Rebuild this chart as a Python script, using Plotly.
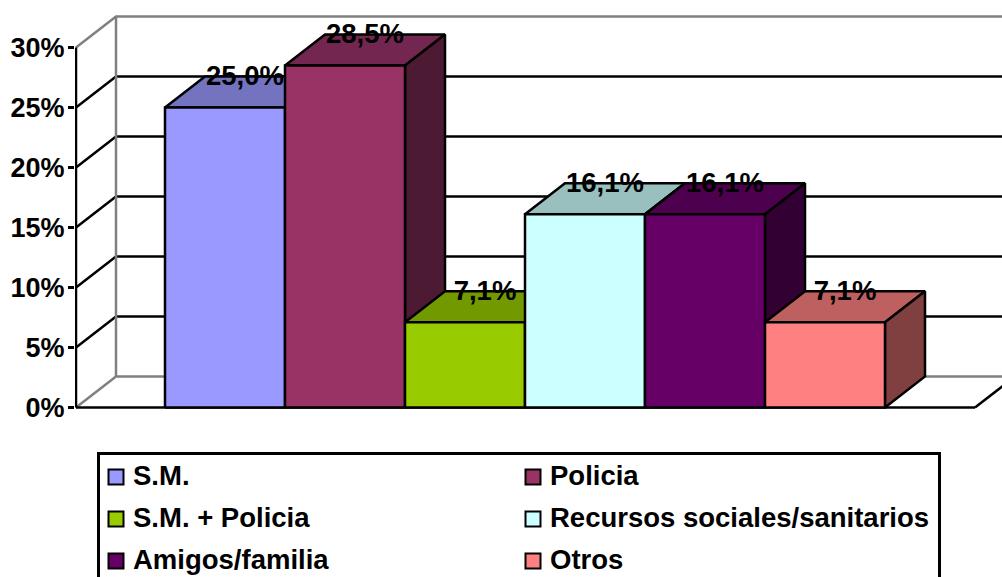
import plotly.graph_objects as go

categories = ["S.M.", "Policia", "S.M. + Policia", "Recursos sociales/sanitarios", "Amigos/familia", "Otros"]
values = [25.0, 28.5, 7.1, 16.1, 16.1, 7.1]
value_labels = ["25,0%", "28,5%", "7,1%", "16,1%", "16,1%", "7,1%"]
front_colors = ["#9999FF", "#993366", "#99CC00", "#CCFFFF", "#660066", "#FF8080"]
top_colors = ["#7373BF", "#732650", "#739900", "#99BFBF", "#4D004D", "#BF6060"]
side_colors = ["#4D4D80", "#4D1A33", "#4D6600", "#668080", "#330033", "#804040"]
tick_values = [0, 5, 10, 15, 20, 25, 30]
tick_labels = ["0%", "5%", "10%", "15%", "20%", "25%", "30%"]

W, H = 1002, 577
PX_X, PX_Y = 120, 12          # pixels per category / per percent
ORIGIN_X, ORIGIN_Y = 225, 407.5 # pixel of first category centre / of 0 %
DX, DY = 40 / PX_X, 31 / PX_Y # depth of the oblique projection
FLOOR_L, FLOOR_R = (76 - ORIGIN_X) / PX_X, (975 - ORIGIN_X) / PX_X
LINE_W = 2.5
BLACK, GRAY = "#000000", "#808080"
FONT = dict(family="Liberation Sans, Arial, sans-serif", color="black", weight=700)

fig = go.Figure()


def line(xs, ys, color, width=LINE_W):
    fig.add_trace(go.Scatter(x=xs, y=ys, mode="lines", line=dict(color=color, width=width),
                             hoverinfo="skip", showlegend=False))


def face(xs, ys, color, name):
    fig.add_trace(go.Scatter(x=xs, y=ys, mode="lines", fill="toself", fillcolor=color, name=name,
                             line=dict(color=BLACK, width=LINE_W), hoverinfo="name", showlegend=False))


# Walls and grid
for t in tick_values:
    c = BLACK if 0 < t < tick_values[-1] else GRAY
    line([FLOOR_L, FLOOR_L + DX, FLOOR_R + DX], [t, t + DY, t + DY], c)
line([FLOOR_L + DX, FLOOR_L + DX], [DY, tick_values[-1] + DY], GRAY)
line([FLOOR_L, FLOOR_L], [0, tick_values[-1]], BLACK)
line([FLOOR_R, FLOOR_R + DX], [0, DY], BLACK)
line([FLOOR_L, FLOOR_R], [0, 0], BLACK)

# Bars, back to front
for i, (cat, v) in enumerate(zip(categories, values)):
    l, r = i - 0.5, i + 0.5
    face([l, l + DX, r + DX, r, l], [v, v + DY, v + DY, v, v], top_colors[i], cat)
    face([r, r + DX, r + DX, r, r], [0, DY, v + DY, v, 0], side_colors[i], cat)
    face([l, r, r, l, l], [0, 0, v, v, 0], front_colors[i], cat)

# Value labels
fig.add_trace(go.Scatter(
    x=[i + DX / 2 for i in range(len(values))], y=[v + DY - 1.5 / PX_Y for v in values],
    mode="text", text=value_labels, textposition="middle center",
    textfont=dict(size=27.5, **FONT), cliponaxis=False, hoverinfo="skip", showlegend=False))

# Legend panel on its own axes
LEG_X = [16, 433]
LEG_Y = [22, 64, 106]
key_x = [LEG_X[i % 2] for i in range(len(categories))]
key_y = [LEG_Y[i // 2] for i in range(len(categories))]
fig.add_trace(go.Scatter(
    x=key_x, y=key_y, mode="markers", xaxis="x2", yaxis="y2", cliponaxis=False,
    marker=dict(symbol="square", size=15, color=front_colors, line=dict(color=BLACK, width=2)),
    hoverinfo="skip", showlegend=False))
fig.add_trace(go.Scatter(
    x=[k + 17 for k in key_x], y=[k + 1 for k in key_y], mode="text", xaxis="x2", yaxis="y2", cliponaxis=False,
    text=categories, textposition="middle right", textfont=dict(size=27.5, **FONT),
    hoverinfo="skip", showlegend=False))

fig.update_layout(
    width=W, height=H, margin=dict(l=0, r=0, t=0, b=0), autosize=False,
    paper_bgcolor="white", plot_bgcolor="white", showlegend=False,
    xaxis=dict(domain=[75 / W, 1], range=[(75 - ORIGIN_X) / PX_X, (W - ORIGIN_X) / PX_X], automargin=False,
               showgrid=False, zeroline=False, showticklabels=False, ticks="", showline=False),
    yaxis=dict(domain=[168 / H, 1], range=[(ORIGIN_Y - 409) / PX_Y, ORIGIN_Y / PX_Y], tickmode="array", automargin=False,
               tickvals=tick_values, ticktext=tick_labels, ticks="outside", ticklen=6, tickwidth=2.5,
               tickcolor=BLACK, showgrid=False, zeroline=False, showline=False, ticklabelstandoff=-2,
               tickfont=dict(size=27, **FONT)),
    xaxis2=dict(domain=[100 / W, 938 / W], range=[0, 838], anchor="y2", side="top", showline=True, automargin=False,
                linecolor=BLACK, linewidth=2.5, mirror=False, showgrid=False, zeroline=False,
                showticklabels=False, ticks=""),
    yaxis2=dict(domain=[0, 122 / H], range=[122, 0], anchor="x2", showline=True, linecolor=BLACK, automargin=False,
                linewidth=2.5, mirror=True, showgrid=False, zeroline=False, showticklabels=False,
                ticks=""),
)
fig.write_html("out.html", config=dict(displayModeBar=False),
               post_script="document.body.style.margin='0';")
